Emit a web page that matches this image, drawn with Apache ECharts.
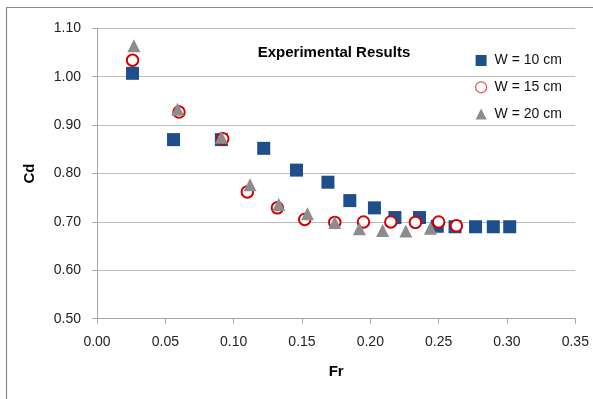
<!DOCTYPE html>
<html>
<head>
<meta charset="utf-8">
<script src="https://cdn.jsdelivr.net/npm/echarts@6/dist/echarts.min.js"></script>
<style>
html,body{margin:0;padding:0;background:#fff;}
#chart{width:593px;height:399px;}
</style>
</head>
<body>
<div id="chart"></div>
<script>
// Data
const frW10 = [0.026, 0.056, 0.091, 0.122, 0.146, 0.169, 0.185, 0.203, 0.218, 0.236, 0.249, 0.262, 0.277, 0.290, 0.302];
const cdW10 = [1.007, 0.870, 0.870, 0.852, 0.807, 0.782, 0.744, 0.729, 0.709, 0.709, 0.691, 0.690, 0.690, 0.690, 0.690];

const frW15 = [0.026, 0.060, 0.092, 0.110, 0.132, 0.152, 0.174, 0.195, 0.215, 0.233, 0.250, 0.263];
const cdW15 = [1.034, 0.927, 0.872, 0.762, 0.729, 0.705, 0.699, 0.700, 0.700, 0.699, 0.700, 0.692];

const frW20 = [0.027, 0.059, 0.091, 0.112, 0.133, 0.154, 0.174, 0.192, 0.209, 0.226, 0.244];
const cdW20 = [1.064, 0.933, 0.875, 0.777, 0.736, 0.717, 0.699, 0.686, 0.682, 0.681, 0.687];

const seriesNames = ['W = 10 cm', 'W = 15 cm', 'W = 20 cm'];
const chartTitle = 'Experimental Results';
const xName = 'Fr';
const yName = 'Cd';

function pairs(xs, ys) { return xs.map((x, i) => [x, ys[i]]); }

const FONT = 'Liberation Sans';
const chart = echarts.init(document.getElementById('chart'), null, {renderer: 'canvas'});
chart.setOption({
  animation: false,
  backgroundColor: '#ffffff',
  textStyle: {fontFamily: FONT},
  grid: {left: 97, top: 28.3, right: 17.7, bottom: 80.3, containLabel: false},
  graphic: [
    {type: 'rect', shape: {x: 6.5, y: 7.5, width: 700, height: 500},
     style: {fill: 'none', stroke: '#8a8a8a', lineWidth: 1.2}, z: 0},
    {type: 'text', x: 334, y: 53,
     style: {text: chartTitle, font: 'bold 15px "Liberation Sans"', fill: '#000', align: 'center', verticalAlign: 'middle'}, z: 10}
  ],
  legend: {
    orient: 'vertical', left: 470, top: 48.5,
    itemWidth: 11, itemHeight: 11, itemGap: 12.8,
    data: [
      {name: seriesNames[0]},
      {name: seriesNames[1], itemStyle: {borderWidth: 1.2, color: '#ffffff', borderColor: '#e05050'}},
      {name: seriesNames[2]}
    ],
    textStyle: {fontFamily: FONT, fontSize: 14, color: '#111', lineHeight: 14, padding: [0,0,0,3]}
  },
  xAxis: {
    type: 'value', min: 0, max: 0.35, interval: 0.05,
    name: xName, nameLocation: 'middle', nameGap: 46,
    nameTextStyle: {fontFamily: FONT, fontSize: 15, fontWeight: 'bold', color: '#000'},
    axisLine: {show: true, lineStyle: {color: '#a6a6a6', width: 1}},
    axisTick: {show: true, inside: false, length: 5, lineStyle: {color: '#a6a6a6'}},
    splitLine: {show: false},
    axisLabel: {fontFamily: FONT, fontSize: 14, color: '#222', margin: 16, formatter: v => v.toFixed(2)}
  },
  yAxis: {
    type: 'value', min: 0.5, max: 1.1, interval: 0.1,
    name: yName, nameLocation: 'middle', nameGap: 60, nameRotate: 90,
    nameTextStyle: {fontFamily: FONT, fontSize: 15, fontWeight: 'bold', color: '#000'},
    axisLine: {show: true, lineStyle: {color: '#a6a6a6', width: 1}},
    axisTick: {show: true, inside: false, length: 5, lineStyle: {color: '#a6a6a6'}},
    splitLine: {show: true, lineStyle: {color: '#bcbcbc', width: 1}},
    axisLabel: {fontFamily: FONT, fontSize: 14, color: '#222', margin: 16, formatter: v => v.toFixed(2)}
  },
  series: [
    {name: seriesNames[0], type: 'scatter', symbol: 'rect', symbolSize: 13,
     itemStyle: {color: '#1f4e8c', opacity: 1}, data: pairs(frW10, cdW10), z: 2},
    {name: seriesNames[1], type: 'scatter', symbol: 'circle', symbolSize: 11.5,
     itemStyle: {color: '#ffffff', borderColor: '#d40000', borderWidth: 2, opacity: 1}, data: pairs(frW15, cdW15), z: 3},
    {name: seriesNames[2], type: 'scatter', symbol: 'triangle', symbolSize: [13, 13],
     itemStyle: {color: '#8c8c8c', opacity: 1}, data: pairs(frW20, cdW20), z: 4}
  ]
});
</script>
</body>
</html>
